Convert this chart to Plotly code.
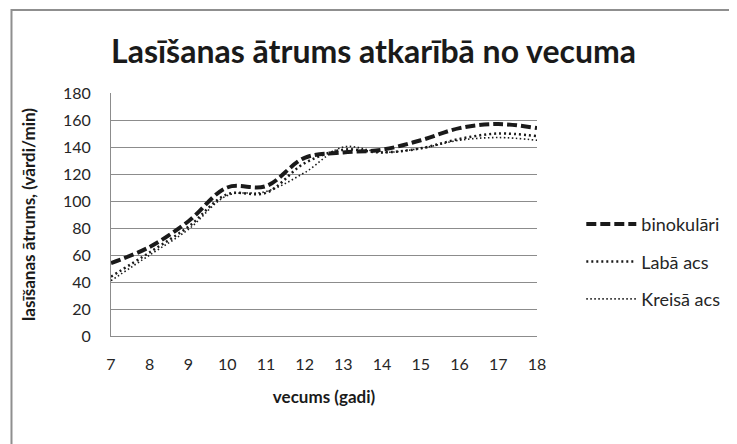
import plotly.graph_objects as go

ages = [7, 8, 9, 10, 11, 12, 13, 14, 15, 16, 17, 18]
binokulari = [54, 66, 85, 110, 111, 132, 136, 138, 145, 154, 157, 154]
laba_acs = [44, 62, 81, 105, 106, 128, 138, 136, 139, 146, 150, 148]
kreisa_acs = [41, 60, 79, 104, 107, 121, 140, 136, 139, 145, 147, 145]
y_ticks = [0, 20, 40, 60, 80, 100, 120, 140, 160, 180]

FONT = "Lato"
TXT = "#262626"
fig = go.Figure()
fig.add_trace(go.Scatter(x=ages, y=binokulari, name="binokulāri", mode="lines",
                         line=dict(color="#1a1a1a", width=4, dash="10px,4px", shape="spline"),
                         legendgroup="a"))
fig.add_trace(go.Scatter(x=ages, y=laba_acs, name="Labā acs", mode="lines",
                         line=dict(color="#1a1a1a", width=2.5, dash="2px,3px", shape="spline"),
                         legendgroup="b"))
fig.add_trace(go.Scatter(x=ages, y=kreisa_acs, name="Kreisā acs", mode="lines",
                         line=dict(color="#1a1a1a", width=1.6, dash="1.5px,2.5px", shape="spline"),
                         legendgroup="c"))

# the page body adds an 8px offset; margins compensate for it
fig.update_layout(
    width=737, height=444,
    margin=dict(l=103, r=208, t=85, b=116),
    paper_bgcolor="white", plot_bgcolor="white",
    font=dict(family=FONT, color=TXT),
    title=dict(text="<b>Lasīšanas ātrums atkarībā no vecuma</b>", x=0.496, xanchor="center",
               xref="container", y=0.901, yanchor="middle", yref="container",
               font=dict(size=32, family=FONT, color="#1a1a1a")),
    xaxis=dict(range=[7, 18], tickvals=ages, showgrid=False, showline=True,
               linecolor="#8c8c8c", linewidth=1, ticks="", zeroline=False,
               ticklabelstandoff=14,
               tickfont=dict(size=16, family=FONT, color=TXT),
               title=dict(text="<b>vecums (gadi)</b>", font=dict(size=17, family=FONT, color="#1a1a1a"), standoff=18)),
    yaxis=dict(range=[0, 180], tickvals=y_ticks, showgrid=True, gridcolor="#8c8c8c", gridwidth=1,
               showline=True, linecolor="#8c8c8c", linewidth=1, ticks="", zeroline=False,
               ticklabelstandoff=16,
               tickfont=dict(size=16, family=FONT, color=TXT),
               title=dict(text="<b>lasīšanas ātrums, (vārdi/min)</b>", font=dict(size=17, family=FONT, color="#1a1a1a"), standoff=23)),
    legend=dict(x=1.104, xanchor="left", y=0.305, yanchor="middle", tracegroupgap=11,
                itemwidth=50,
                font=dict(size=18, family=FONT, color=TXT), bgcolor="rgba(0,0,0,0)"),
    shapes=[dict(type="rect", xref="paper", yref="paper", x0=-0.2336, x1=1.467, y0=-0.6, y1=1.3416,
                 line=dict(color="#8f8f8f", width=2), fillcolor="rgba(0,0,0,0)", layer="below")],
)

fig.write_html("out.html")
